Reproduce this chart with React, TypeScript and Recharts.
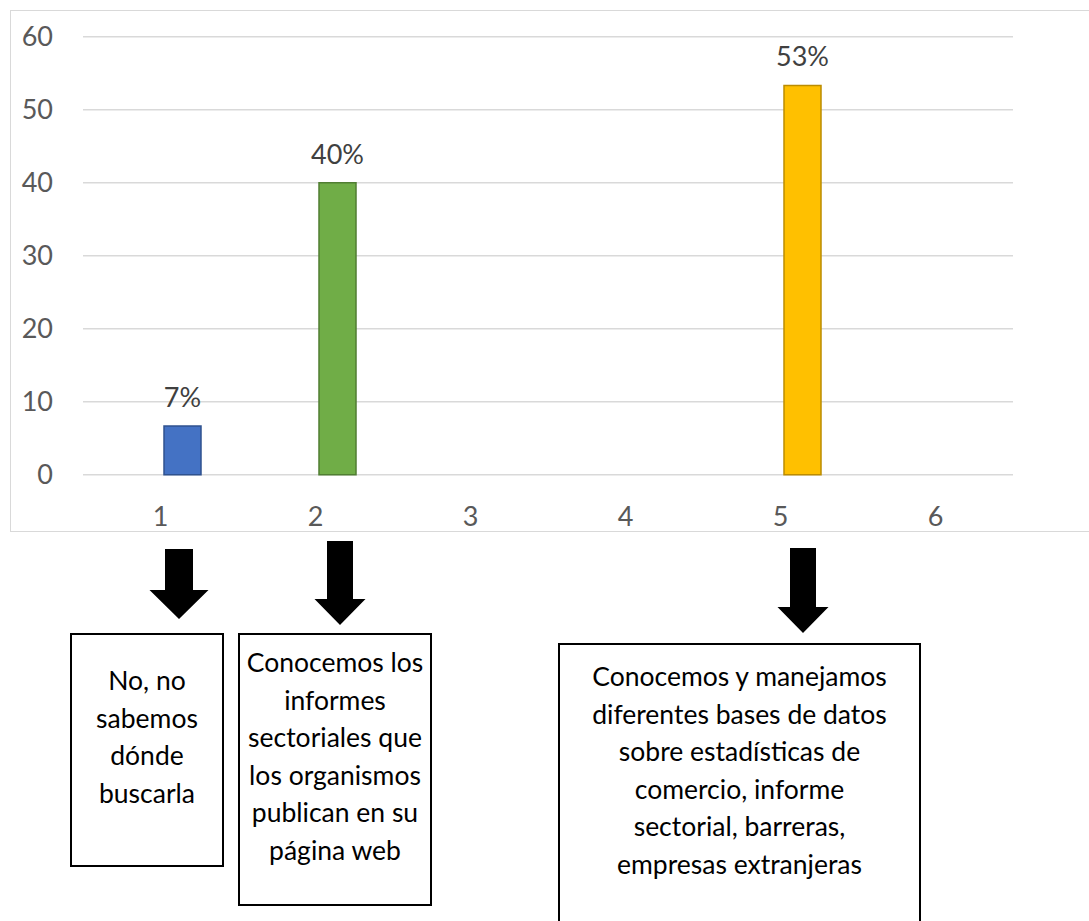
import { Bar, BarChart, CartesianGrid, Cell, LabelList, XAxis, YAxis } from "recharts";

// categories on the x axis (answer options)
const categories = ["1", "2", "3", "4", "5", "6"];
// empty first series that keeps the Excel bar offset
const blankSeries: (number | null)[] = [null, null, null, null, null, null];
// share of answers (%)
const answerShares: (number | null)[] = [6.67, 40, null, null, 53.33, null];
const yTicks = [0, 10, 20, 30, 40, 50, 60];

const box1Lines = ["No, no", "sabemos", "dónde", "buscarla"];
const box2Lines = [
  "Conocemos los",
  "informes",
  "sectoriales que",
  "los organismos",
  "publican en su",
  "página web",
];
const box3Lines = [
  "Conocemos y manejamos",
  "diferentes bases de datos",
  "sobre estadísticas de",
  "comercio, informe",
  "sectorial, barreras,",
  "empresas extranjeras",
];

const fills = ["#4472C4", "#70AD47", "#A5A5A5", "#ED7D31", "#FFC000", "#5B9BD5"];
const strokes = ["#2F528F", "#507E32", "#787878", "#AE5A21", "#BC8C00", "#41719C"];

const rows = categories.map((c, i) => ({
  cat: c,
  blank: blankSeries[i],
  share: answerShares[i],
}));

const FONT = "Lato, 'Open Sans', sans-serif";

type Arrow = { cx: number; top: number; shaftW: number; headY: number; headW: number; tip: number };
const arrows: Arrow[] = [
  { cx: 179, top: 549, shaftW: 28, headY: 590, headW: 59, tip: 619 },
  { cx: 340, top: 541, shaftW: 26, headY: 599, headW: 51, tip: 625 },
  { cx: 803, top: 548, shaftW: 26, headY: 607, headW: 51, tip: 633 },
];

type Box = { x: number; y: number; w: number; h: number; padTop: number; lines: string[] };
const boxes: Box[] = [
  { x: 70, y: 633, w: 154, h: 234, padTop: 27, lines: box1Lines },
  { x: 238, y: 633, w: 194, h: 273, padTop: 9, lines: box2Lines },
  { x: 558, y: 643, w: 363, h: 300, padTop: 13, lines: box3Lines },
];

function arrowPoints(a: Arrow) {
  const s = a.shaftW / 2;
  const h = a.headW / 2;
  return [
    [a.cx - s, a.top],
    [a.cx + s, a.top],
    [a.cx + s, a.headY],
    [a.cx + h, a.headY],
    [a.cx, a.tip],
    [a.cx - h, a.headY],
    [a.cx - s, a.headY],
  ]
    .map((p) => p.join(","))
    .join(" ");
}

export default function App() {
  return (
    <div
      style={{
        position: "absolute",
        left: 0,
        top: 0,
        width: 1089,
        height: 921,
        overflow: "hidden",
        background: "#fff",
        fontFamily: FONT,
      }}
    >
      {/* chart frame: open on the right, like the cropped original */}
      <div
        style={{
          position: "absolute",
          left: 10,
          top: 10,
          width: 1090,
          height: 520,
          borderTop: "1.5px solid #d9d9d9",
          borderLeft: "1.5px solid #d9d9d9",
          borderBottom: "1.5px solid #d9d9d9",
        }}
      />
      <div style={{ position: "absolute", left: 10, top: 10 }}>
        <BarChart
          width={1079}
          height={521}
          data={rows}
          margin={{ top: 26.7, right: 76, bottom: 0, left: 0 }}
          barSize={37}
          barGap={7}
        >
          <CartesianGrid vertical={false} stroke="#d9d9d9" strokeWidth={1.5} />
          <XAxis
            dataKey="cat"
            height={56.3}
            axisLine={false}
            tickLine={false}
            tickSize={0}
            tickMargin={32}
            tick={{ fontSize: 27, fill: "#595959", fontFamily: FONT }}
          />
          <YAxis
            width={73}
            domain={[0, 60]}
            ticks={yTicks}
            axisLine={false}
            tickLine={false}
            tickSize={0}
            tickMargin={30}
            tick={{ fontSize: 27, fill: "#595959", fontFamily: FONT }}
          />
          <Bar dataKey="blank" fill="transparent" isAnimationActive={false} />
          <Bar dataKey="share" strokeWidth={1.5} isAnimationActive={false}>
            {rows.map((r, i) => (
              <Cell key={r.cat} fill={fills[i]} stroke={strokes[i]} />
            ))}
            <LabelList
              dataKey="share"
              position="top"
              offset={19}
              formatter={(v: any) => (v == null ? "" : `${Math.round(Number(v))}%`)}
              style={{ fontSize: 27, fill: "#404040", fontFamily: FONT }}
            />
          </Bar>
        </BarChart>
      </div>

      <svg
        width={1089}
        height={921}
        style={{ position: "absolute", left: 0, top: 0, pointerEvents: "none" }}
      >
        {arrows.map((a, i) => (
          <polygon key={i} points={arrowPoints(a)} fill="#000" />
        ))}
      </svg>

      {boxes.map((b, i) => (
        <div
          key={i}
          style={{
            position: "absolute",
            left: b.x,
            top: b.y,
            width: b.w,
            height: b.h,
            boxSizing: "border-box",
            border: "2px solid #000",
            paddingTop: b.padTop,
            textAlign: "center",
            fontSize: 26.5,
            lineHeight: "37.5px",
            color: "#000",
          }}
        >
          {b.lines.map((l) => (
            <div key={l} style={{ whiteSpace: "nowrap" }}>
              {l}
            </div>
          ))}
        </div>
      ))}
    </div>
  );
}
